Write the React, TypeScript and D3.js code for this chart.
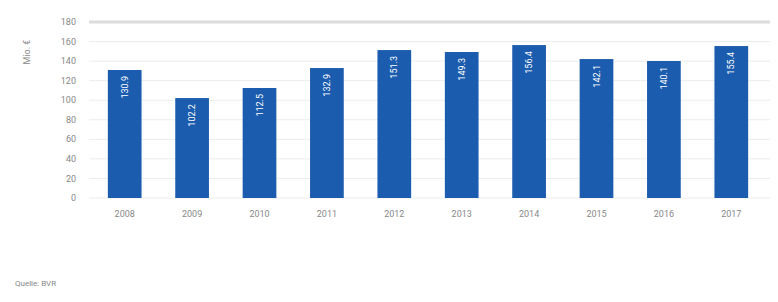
import React from "react";
import * as d3 from "d3";

const years = ["2008", "2009", "2010", "2011", "2012", "2013", "2014", "2015", "2016", "2017"];
const values = [130.9, 102.2, 112.5, 132.9, 151.3, 149.3, 156.4, 142.1, 140.1, 155.4];
const yTicks = [0, 20, 40, 60, 80, 100, 120, 140, 160, 180];
const yTitle = "Mio. €";
const sourceText = "Quelle: BVR";

const W = 778;
const H = 302;
const left = 91;
const right = 765;
const top = 22;
const bottom = 198;

export default function App() {
  const x = d3.scaleBand<string>().domain(years).range([left, right]).paddingInner(0.5).paddingOuter(0.25);
  const y = d3.scaleLinear().domain([0, 180]).range([bottom, top]);
  const font = "Roboto, 'Open Sans', Arial, sans-serif";
  return (
    <svg width={W} height={H} style={{ position: "absolute", left: 0, top: 0, background: "#fff" }} fontFamily={font}>
      {yTicks.map((t) => (
        <g key={t}>
          <line x1={left - 2} x2={W - 8} y1={y(t)} y2={y(t)} stroke={t === 180 ? "#dcdcdc" : "#ececec"} strokeWidth={t === 180 ? 3 : 1} />
          <text x={76} y={y(t)} dy="0.35em" textAnchor="end" fontSize={9} fill="#888">{t}</text>
        </g>
      ))}
      <text transform={`translate(30,${52}) rotate(-90)`} textAnchor="middle" fontSize={9} fill="#888">{yTitle}</text>
      {years.map((yr, i) => {
        const bx = x(yr)!;
        const bw = x.bandwidth();
        return (
          <g key={yr}>
            <rect x={bx} y={y(values[i])} width={bw} height={bottom - y(values[i])} fill="#1b5cae" />
            <text
              transform={`translate(${bx + bw / 2},${y(values[i]) + 6}) rotate(-90)`}
              textAnchor="end"
              dy="0.35em"
              fontSize={9}
              fill="#fff"
            >
              {values[i].toFixed(1)}
            </text>
            <text x={bx + bw / 2} y={214} textAnchor="middle" dy="0.35em" fontSize={9} fill="#888">{yr}</text>
          </g>
        );
      })}
      <text x={15} y={286} fontSize={8} fill="#888">{sourceText}</text>
    </svg>
  );
}
